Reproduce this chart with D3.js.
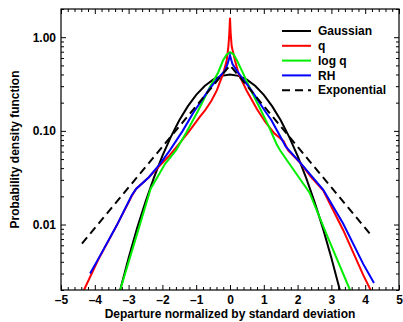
<!DOCTYPE html>
<html>
<head>
<meta charset="utf-8">
<script src="https://cdn.jsdelivr.net/npm/d3@7"></script>
<style>
  body { margin: 0; background: #fff; }
  svg { display: block; font-family: "Liberation Sans", Arial, sans-serif; font-weight: bold; }
  .tick text { font-size: 12px; font-weight: bold; fill: #000; }
</style>
</head>
<body>
<svg id="chart" width="403" height="322"></svg>
<script>
// values: [x, density]
const gaussian = [[-3.25, 0.0020], [-3.0, 0.0044], [-2.75, 0.0091], [-2.5, 0.0175], [-2.25, 0.0317],
  [-2.0, 0.054], [-1.75, 0.0863], [-1.5, 0.1295], [-1.25, 0.1826], [-1.0, 0.242], [-0.75, 0.3011],
  [-0.5, 0.3521], [-0.25, 0.3867], [0, 0.3989], [0.25, 0.3867], [0.5, 0.3521], [0.75, 0.3011],
  [1.0, 0.242], [1.25, 0.1826], [1.5, 0.1295], [1.75, 0.0863], [2.0, 0.054], [2.25, 0.0317],
  [2.5, 0.0175], [2.75, 0.0091], [3.0, 0.0044], [3.25, 0.0020]];

const qPdf = [[-4.32, 0.002], [-3.9, 0.0042], [-3.35, 0.0098], [-2.91, 0.020], [-2.78, 0.024],
  [-2.4, 0.032], [-2.07, 0.043], [-1.8, 0.054], [-1.5, 0.073], [-1.2, 0.10], [-0.9, 0.14],
  [-0.74, 0.165], [-0.55, 0.21], [-0.39, 0.27], [-0.2, 0.41], [-0.1, 0.56], [-0.05, 0.78],
  [-0.02, 1.1], [0, 1.61], [0.02, 1.1], [0.05, 0.8], [0.15, 0.56], [0.25, 0.41], [0.49, 0.27],
  [0.8, 0.17], [1.04, 0.125], [1.3, 0.095], [1.58, 0.078], [1.72, 0.062], [2.07, 0.046],
  [2.4, 0.032], [2.76, 0.023], [3.35, 0.0087], [3.94, 0.0029], [4.16, 0.002]];

const logqPdf = [[-3.25, 0.002], [-2.8, 0.0069], [-2.35, 0.024], [-1.92, 0.0445], [-1.6, 0.062],
  [-1.3, 0.095], [-0.94, 0.165], [-0.6, 0.29], [-0.35, 0.42], [-0.2, 0.57], [-0.1, 0.65],
  [0, 0.69], [0.1, 0.66], [0.2, 0.57], [0.35, 0.44], [0.6, 0.28], [0.9, 0.17], [1.13, 0.115],
  [1.38, 0.072], [1.48, 0.062], [1.9, 0.0375], [2.35, 0.022], [2.9, 0.0072], [3.55, 0.002]];

const rhPdf = [[-4.14, 0.0030], [-3.85, 0.0046], [-3.35, 0.0098], [-2.91, 0.0204], [-2.78, 0.024],
  [-2.4, 0.032], [-2.07, 0.0445], [-1.78, 0.062], [-1.4, 0.10], [-1.09, 0.155], [-0.64, 0.27],
  [-0.4, 0.35], [-0.15, 0.44], [-0.07, 0.52], [0, 0.64], [0.07, 0.52], [0.2, 0.44], [0.4, 0.35],
  [0.64, 0.27], [1.0, 0.17], [1.23, 0.129], [1.65, 0.068], [2.07, 0.046], [2.76, 0.0235],
  [3.35, 0.0102], [3.94, 0.0038], [4.26, 0.00237]];

const expPdf = [[-4.38, 0.00626], [-3, 0.0249], [-2, 0.0677], [-1, 0.184], [0, 0.5],
  [1, 0.184], [2, 0.0677], [3, 0.0249], [4.19, 0.0076]];

const seriesNames = ["Gaussian", "q", "log q", "RH", "Exponential"];
const seriesColors = ["#000000", "#ff0000", "#00ee00", "#0000ff", "#000000"];
const seriesDash = [null, null, null, null, "8,5"];
const seriesData = [gaussian, qPdf, logqPdf, rhPdf, expPdf];

const xMajor = [-5, -4, -3, -2, -1, 0, 1, 2, 3, 4, 5];
const yMajor = [0.01, 0.1, 1];
const yMajorLabels = ["0.01", "0.10", "1.00"];
const xTitle = "Departure normalized by standard deviation";
const yTitle = "Probability density function";

const svg = d3.select("#chart");
const pLeft = 61, pRight = 399, pTop = 9, pBottom = 290;

const x = d3.scaleLinear().domain([-5, 5]).range([pLeft, pRight]);
const y = d3.scaleLog().domain([0.002, 2]).range([pBottom, pTop]);

const xMinor = d3.range(-50, 51, 2).map(d => d / 10).filter(d => !xMajor.includes(d));
const yMinor = [];
[0.001, 0.01, 0.1, 1].forEach(p => {
  for (let k = 2; k <= 9; k++) {
    const v = +(p * k).toPrecision(3);
    if (v >= 0.002 && v <= 2) yMinor.push(v);
  }
});

function axisPair(axisFn, scale, major, minor, transform, labels) {
  const gMin = svg.append("g").attr("transform", transform)
    .call(axisFn(scale).tickValues(minor).tickSize(-3).tickFormat(""));
  const gMaj = svg.append("g").attr("transform", transform)
    .call(axisFn(scale).tickValues(major).tickSize(-5).tickPadding(5)
      .tickFormat(labels ? (d, i) => labels[i] : ""));
  [gMin, gMaj].forEach(g => {
    g.select(".domain").remove();
    g.selectAll("line").attr("stroke", "#000").attr("stroke-width", 1);
  });
  return gMaj;
}

const xLabels = xMajor.map(d => d < 0 ? "\u2013" + Math.abs(d) : String(d));
axisPair(d3.axisBottom, x, xMajor, xMinor, `translate(0,${pBottom})`, xLabels);
axisPair(d3.axisTop, x, xMajor, xMinor, `translate(0,${pTop})`, null);
axisPair(d3.axisLeft, y, yMajor, yMinor, `translate(${pLeft},0)`, yMajorLabels);
axisPair(d3.axisRight, y, yMajor, yMinor, `translate(${pRight},0)`, null);

svg.append("defs").append("clipPath").attr("id", "plot")
  .append("rect").attr("x", pLeft).attr("y", pTop)
  .attr("width", pRight - pLeft).attr("height", pBottom - pTop);

const line = d3.line().x(d => x(d[0])).y(d => y(d[1]));

const plot = svg.append("g").attr("clip-path", "url(#plot)");
plot.selectAll("path")
  .data(seriesData)
  .join("path")
  .attr("d", line)
  .attr("fill", "none")
  .attr("stroke", (d, i) => seriesColors[i])
  .attr("stroke-width", 2)
  .attr("stroke-dasharray", (d, i) => seriesDash[i]);

svg.append("rect")
  .attr("x", pLeft).attr("y", pTop)
  .attr("width", pRight - pLeft).attr("height", pBottom - pTop)
  .attr("fill", "none").attr("stroke", "#000").attr("stroke-width", 1.2);

// legend
const leg = svg.append("g").selectAll("g")
  .data(seriesNames)
  .join("g")
  .attr("transform", (d, i) => `translate(282,${31 + i * 14.8})`);
leg.append("line")
  .attr("x1", 0).attr("x2", 29)
  .attr("stroke", (d, i) => seriesColors[i])
  .attr("stroke-width", 2)
  .attr("stroke-dasharray", (d, i) => seriesDash[i]);
leg.append("text")
  .attr("x", 36).attr("dy", "0.35em")
  .style("font-size", "12px")
  .text(d => d);

svg.append("text")
  .attr("x", (pLeft + pRight) / 2).attr("y", 318)
  .attr("text-anchor", "middle")
  .style("font-size", "12px")
  .text(xTitle);

svg.append("text")
  .attr("transform", `translate(19,${(pTop + pBottom) / 2}) rotate(-90)`)
  .attr("text-anchor", "middle")
  .style("font-size", "12px")
  .text(yTitle);
</script>
</body>
</html>
